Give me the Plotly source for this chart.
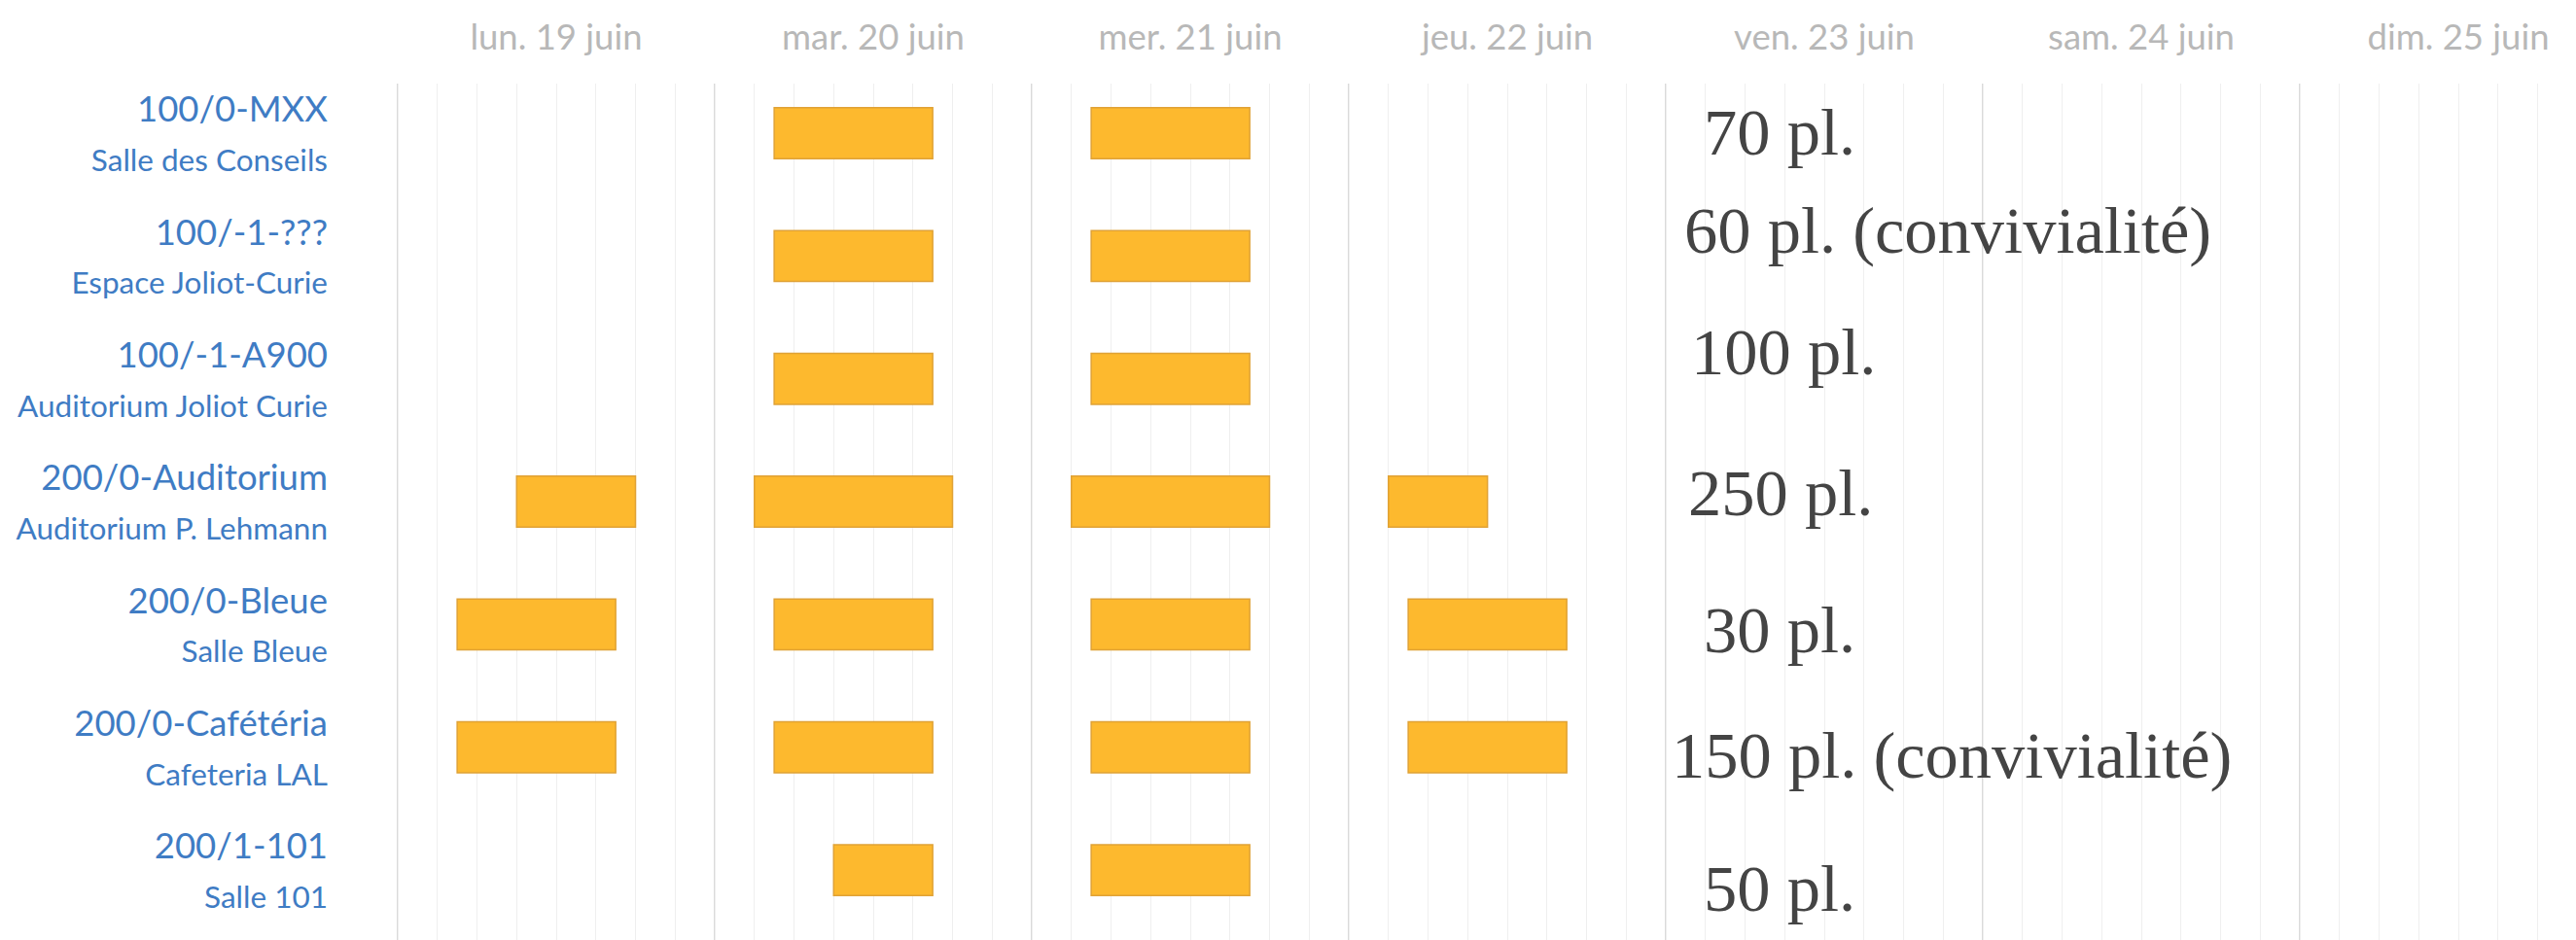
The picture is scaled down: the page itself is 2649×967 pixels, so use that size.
import plotly.graph_objects as go

# ---------------- data ----------------
days = ["lun. 19 juin", "mar. 20 juin", "mer. 21 juin", "jeu. 22 juin",
        "ven. 23 juin", "sam. 24 juin", "dim. 25 juin"]
room_codes = ["100/0-MXX", "100/-1-???", "100/-1-A900", "200/0-Auditorium",
              "200/0-Bleue", "200/0-Cafétéria", "200/1-101"]
room_names = ["Salle des Conseils", "Espace Joliot-Curie", "Auditorium Joliot Curie",
              "Auditorium P. Lehmann", "Salle Bleue", "Cafeteria LAL", "Salle 101"]
capacities = ["70 pl.", "60 pl. (convivialité)", "100 pl.", "250 pl.", "30 pl.",
              "150 pl. (convivialité)", "50 pl."]

# bookings: room index, day index, start hour, end hour
booking_room = [0, 0, 1, 1, 2, 2, 3, 3, 3, 3, 4, 4, 4, 4, 5, 5, 5, 5, 6, 6]
booking_day = [1, 2, 1, 2, 1, 2, 0, 1, 2, 3, 0, 1, 2, 3, 0, 1, 2, 3, 1, 2]
booking_start = [9, 9, 9, 9, 9, 9, 12, 8, 8, 8, 9, 9, 9, 9, 9, 9, 9, 9, 12, 9]
booking_end = [17, 17, 17, 17, 17, 17, 18, 18, 18, 13, 17, 17, 17, 17, 17, 17, 17, 17, 17, 17]

# ---------------- axis design ----------------
DAY_FIRST_HOUR = 6      # each day column shows 6h -> 22h
DAY_LAST_HOUR = 22
SPAN = DAY_LAST_HOUR - DAY_FIRST_HOUR

W, H = 2649, 967
PAGE_OFFSET = 8          # default body margin of the html page
ML, MT = 400 - PAGE_OFFSET, 86 - PAGE_OFFSET
PX_PER_UNIT = 20.375
x0 = -(409 - 400) / PX_PER_UNIT
x1 = x0 + (W - ML) / PX_PER_UNIT
ROW_PX = 126.35
ROW0_PX = 137
y_top = -(ROW0_PX - 86) / ROW_PX
y_bot = (H - MT + 86 - ROW0_PX) / ROW_PX

bases = [d * SPAN + (s - DAY_FIRST_HOUR) for d, s in zip(booking_day, booking_start)]
durations = [e - s for s, e in zip(booking_start, booking_end)]

fig = go.Figure()
fig.add_trace(go.Bar(
    y=booking_room, x=durations, base=bases, orientation="h", width=0.415,
    marker=dict(color="#FDB92E", line=dict(color="#E0A236", width=1.5)),
    showlegend=False, hoverinfo="skip",
))

BLUE = "#3f7cc4"
ticktext_y = [f"<span style='font-size:36.5px'>{c}</span><br>"
              f"<span style='font-size:31.5px'>{n}</span>"
              for c, n in zip(room_codes, room_names)]

# day separators (stronger grid lines)
shapes = [dict(type="line", xref="x", yref="paper", x0=d * SPAN, x1=d * SPAN, y0=0, y1=1,
               line=dict(color="#dadada", width=2), layer="below")
          for d in range(len(days) + 1)]

# capacity labels (individually placed text boxes)
cap_xshift = [37, 17, 24, 21, 37, 4, 37]
cap_yshift = [1, 26, 28, 9, -6, -8, -19]
annotations = []
for i, txt in enumerate(capacities):
    annotations.append(dict(
        x=4 * SPAN, y=i, xref="x", yref="y", text=txt, showarrow=False,
        xanchor="left", yanchor="middle", xshift=cap_xshift[i], yshift=cap_yshift[i],
        font=dict(family="Liberation Serif", size=68.5, color="#444444"),
    ))

fig.update_layout(
    width=W, height=H,
    margin=dict(l=ML, r=0, t=MT, b=0),
    plot_bgcolor="white", paper_bgcolor="white",
    xaxis=dict(
        range=[x0, x1], side="top", tickmode="array",
        tickvals=[d * SPAN + SPAN / 2 for d in range(len(days))], ticktext=days,
        tickfont=dict(family="Lato", size=36.5, color="#b8b8b8"),
        ticks="", ticklabelstandoff=27,
        showgrid=True, gridcolor="#efefef", gridwidth=1,
        minor=dict(tickmode="linear", tick0=0, dtick=2, showgrid=True,
                   gridcolor="#efefef", gridwidth=1),
        zeroline=False, showline=False, automargin=False,
    ),
    yaxis=dict(
        range=[y_bot, y_top], tickmode="array", tickvals=list(range(len(room_codes))),
        ticktext=ticktext_y, showgrid=False, zeroline=False, showline=False, ticks="",
        tickfont=dict(family="Lato", size=39, color=BLUE),
        ticklabelstandoff=62, automargin=False,
    ),
    shapes=shapes,
    annotations=annotations,
)

fig.write_html("out.html")
